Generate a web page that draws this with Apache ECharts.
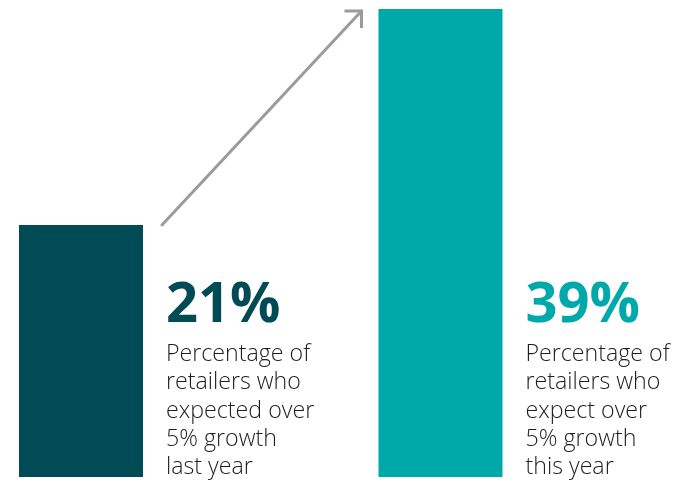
<!DOCTYPE html>
<html>
<head>
<meta charset="utf-8">
<script src="https://cdn.jsdelivr.net/npm/echarts@6/dist/echarts.min.js"></script>
<style>
  html, body { margin: 0; padding: 0; background: #ffffff; }
  #chart { width: 689px; height: 482px; }
</style>
</head>
<body>
<div id="chart"></div>
<script>
// Share of retailers expecting over 5% growth
const categories = ['Last year', 'This year'];
const values = [21, 39];
const descriptions = [
  ['Percentage of', 'retailers who', 'expected over', '5% growth', 'last year'],
  ['Percentage of', 'retailers who', 'expect over', '5% growth', 'this year']
];

const barColors = ['#004b55', '#00a9a9'];
const FONT = '"Open Sans", "Segoe UI", sans-serif';

// Bars sit on a numeric x axis (one slot per category) so each bar can be
// followed by its text column.
const seriesData = values.map((v, i) => ({
  name: categories[i],
  value: [i, v],
  itemStyle: { color: barColors[i] },
  label: {
    formatter: ['{big|' + v + '%}'].concat(descriptions[i].map(t => '{txt|' + t + '}')).join('\n'),
    rich: {
      big: { fontFamily: FONT, fontWeight: 'bold', fontSize: 56, lineHeight: 68, color: barColors[i] },
      txt: { fontFamily: FONT, fontWeight: 300, fontSize: 23.2, lineHeight: 28.4, color: '#1e1e1e' }
    }
  }
}));

const chart = echarts.init(document.getElementById('chart'), null, { renderer: 'canvas' });

chart.setOption({
  animation: false,
  backgroundColor: '#ffffff',
  grid: { left: 0, right: 0, top: 0, bottom: 5 },
  xAxis: {
    type: 'value',
    min: -0.2253,
    max: 1.6913,
    show: false,
    splitLine: { show: false }
  },
  yAxis: {
    type: 'value',
    min: 0,
    max: 39.75,
    show: false,
    splitLine: { show: false }
  },
  series: [{
    type: 'bar',
    barWidth: 124,
    data: seriesData,
    label: {
      show: true,
      position: ['100%', '100%'],
      align: 'left',
      verticalAlign: 'bottom',
      offset: [23, 5]
    }
  }]
});

// Growth arrow from the top of the first bar toward the top of the second
const layout = chart.getModel().getSeriesByIndex(0).getData();
const r1 = layout.getItemLayout(0);
const r2 = layout.getItemLayout(1);
const top1 = Math.min(r1.y, r1.y + r1.height);
const top2 = Math.min(r2.y, r2.y + r2.height);
const start = [r1.x + r1.width + 19, top1];
const end = [r2.x - 17, top2 + 2];
const head = 17;
chart.setOption({
  graphic: [
    {
      type: 'line',
      shape: { x1: start[0], y1: start[1], x2: end[0], y2: end[1] },
      style: { stroke: '#9b9b9b', lineWidth: 3, lineCap: 'round' }
    },
    {
      type: 'polyline',
      shape: { points: [[end[0] - head, end[1]], end, [end[0], end[1] + head]] },
      style: { stroke: '#9b9b9b', lineWidth: 3, fill: null, lineJoin: 'miter', lineCap: 'butt' }
    }
  ]
});
</script>
</body>
</html>
